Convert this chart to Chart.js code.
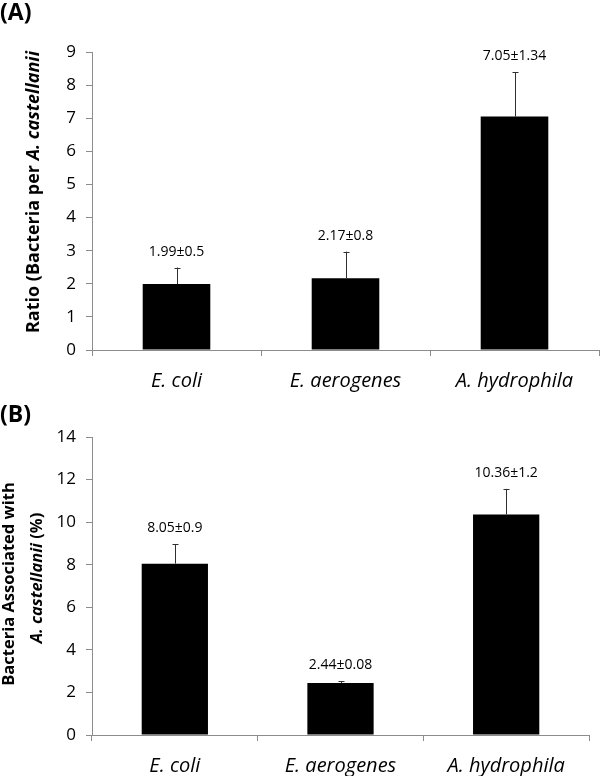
<!DOCTYPE html>
<html>
<head>
<meta charset="utf-8">
<script src="https://cdn.jsdelivr.net/npm/chart.js@4.4.1/dist/chart.umd.min.js"></script>
<style>
  html, body { margin: 0; padding: 0; background: #fff; overflow: hidden; }
  body { position: relative; width: 600px; height: 776px; }
  canvas { display: block; position: absolute; left: 0; }
  #chartA { top: 0; z-index: 2; }
  #chartB { top: 388px; z-index: 1; }
</style>
</head>
<body>
<canvas id="chartA" width="600" height="400"></canvas>
<canvas id="chartB" width="600" height="388"></canvas>
<script>
// --------- data ---------
const categories = ['E. coli', 'E. aerogenes', 'A. hydrophila'];

const ratioValues = [1.99, 2.17, 7.05];
const ratioErrors = [0.5, 0.8, 1.34];
const ratioTicks = [0, 1, 2, 3, 4, 5, 6, 7, 8, 9];

const assocValues = [8.05, 2.44, 10.36];
const assocErrors = [0.9, 0.08, 1.2];
const assocTicks = [0, 2, 4, 6, 8, 10, 12, 14];

const FONT = '"Open Sans", "DejaVu Sans", sans-serif';
const AXIS_GREY = '#8c8c8c';

// error bars (upper only) + value labels above them
const errorLabelPlugin = {
    id: 'errorLabels',
    afterDatasetsDraw(chart, args, opts) {
        const ctx = chart.ctx;
        const yScale = chart.scales.y;
        const meta = chart.getDatasetMeta(0);
        const vals = chart.data.datasets[0].data;
        ctx.save();
        meta.data.forEach((bar, i) => {
            const top = yScale.getPixelForValue(vals[i] + opts.errors[i]);
            const x = Math.round(bar.x) + 0.5;
            ctx.strokeStyle = '#303030';
            ctx.lineWidth = 1;
            ctx.beginPath();
            ctx.moveTo(x, bar.y);
            ctx.lineTo(x, top);
            ctx.moveTo(x - 3, Math.round(top) + 0.5);
            ctx.lineTo(x + 3, Math.round(top) + 0.5);
            ctx.stroke();

            ctx.fillStyle = '#000';
            ctx.font = '14px ' + FONT;
            ctx.textAlign = 'center';
            ctx.textBaseline = 'middle';
            ctx.fillText(vals[i] + '\u00b1' + opts.errors[i], bar.x, top - 16);
        });
        ctx.restore();
    }
};

// rotated y-axis title with mixed bold / bold-italic parts, plus panel letter
const titlePlugin = {
    id: 'sideTitle',
    afterDraw(chart, args, opts) {
        const ctx = chart.ctx;
        ctx.save();
        ctx.fillStyle = '#000';
        ctx.textBaseline = 'middle';
        ctx.textAlign = 'left';

        opts.lines.forEach(line => {
            const fonts = line.parts.map(p => (p.italic ? 'italic ' : '') + 'bold ' + opts.size + 'px ' + FONT);
            let total = 0;
            line.parts.forEach((p, k) => { ctx.font = fonts[k]; total += ctx.measureText(p.text).width; });
            ctx.save();
            ctx.translate(line.x, line.y);
            ctx.rotate(-Math.PI / 2);
            let pos = -total / 2;
            line.parts.forEach((p, k) => {
                ctx.font = fonts[k];
                ctx.fillText(p.text, pos, 0);
                pos += ctx.measureText(p.text).width;
            });
            ctx.restore();
        });

        ctx.font = 'bold 23px ' + FONT;
        ctx.textBaseline = 'middle';
        ctx.fillText(opts.panel, 0, opts.panelY);
        ctx.restore();
    }
};

function makeChart(id, values, errors, ticks, sizes, titleOpts) {
    return new Chart(document.getElementById(id), {
        type: 'bar',
        data: {
            labels: categories,
            datasets: [{
                data: values,
                backgroundColor: '#000',
                borderWidth: 0,
                barPercentage: 0.4,
                categoryPercentage: 1.0
            }]
        },
        options: {
            responsive: false,
            animation: false,
            layout: { padding: { top: sizes.top, right: sizes.right, left: 0, bottom: 0 } },
            plugins: {
                legend: { display: false },
                tooltip: { enabled: false },
                errorLabels: { errors: errors },
                sideTitle: titleOpts
            },
            scales: {
                x: {
                    grid: { drawOnChartArea: false, tickLength: 6, color: AXIS_GREY, offset: true },
                    border: { color: AXIS_GREY },
                    ticks: { color: '#000', padding: 13, font: { family: FONT, size: 20, style: 'italic' } },
                    afterFit: s => { s.height = sizes.xHeight; }
                },
                y: {
                    min: ticks[0],
                    max: ticks[ticks.length - 1],
                    afterBuildTicks: s => { s.ticks = ticks.map(v => ({ value: v })); },
                    grid: { drawOnChartArea: false, tickLength: 6, color: AXIS_GREY },
                    border: { color: AXIS_GREY },
                    ticks: { color: '#000', padding: 10, font: { family: FONT, size: 17 } },
                    afterFit: s => { s.width = 92; }
                }
            }
        },
        plugins: [errorLabelPlugin, titlePlugin]
    });
}

// --------- (A) ---------
makeChart('chartA', ratioValues, ratioErrors, ratioTicks,
    { top: 52, right: 1, xHeight: 50 },
    {
        panel: '(A)', panelY: 13, size: 18,
        lines: [{ x: 34, y: 192, parts: [
            { text: 'Ratio (Bacteria per ' },
            { text: 'A. castellanii', italic: true }
        ] }]
    });

// --------- (B) ---------
makeChart('chartB', assocValues, assocErrors, assocTicks,
    { top: 49, right: 11, xHeight: 41 },
    {
        panel: '(B)', panelY: 27, size: 16.5,
        lines: [
            { x: 9, y: 196, parts: [{ text: 'Bacteria Associated with' }] },
            { x: 37, y: 190, parts: [
                { text: 'A. castellanii', italic: true },
                { text: ' (%)' }
            ] }
        ]
    });
</script>
</body>
</html>
